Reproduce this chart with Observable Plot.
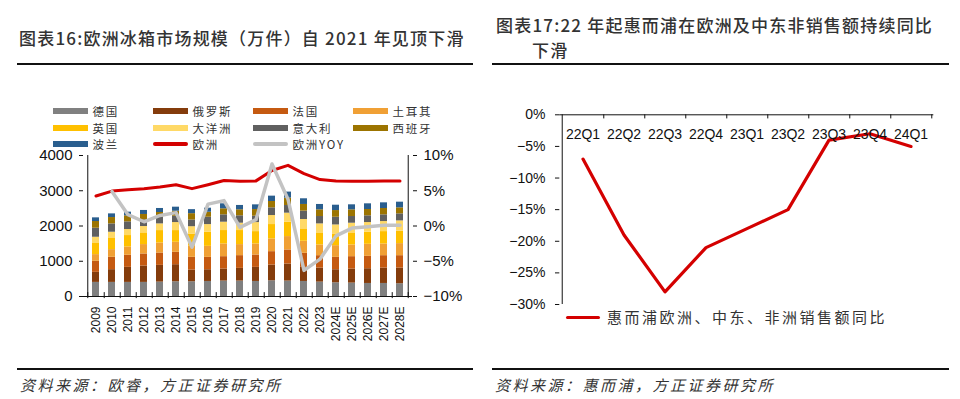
<!DOCTYPE html>
<html><head><meta charset="utf-8">
<script src="https://cdn.jsdelivr.net/npm/d3@7"></script>
<script src="https://cdn.jsdelivr.net/npm/@observablehq/plot@0.6"></script>
<style>
html,body{margin:0;padding:0;background:#fff;}
#root{position:relative;width:960px;height:399px;overflow:hidden;font-family:"Noto Sans CJK SC",sans-serif;color:#222;}
.abs{position:absolute;white-space:nowrap;}
.title{font-size:17px;letter-spacing:1.2px;color:#333;font-weight:500;line-height:20px;}
.rule{position:absolute;height:2px;background:#111;}
.src{font-size:15px;letter-spacing:2.5px;font-style:italic;color:#333;line-height:18px;}
.lg{font-size:11.5px;letter-spacing:1.8px;line-height:14px;color:#333;}
.sw{position:absolute;width:35px;height:6px;}
.ln{position:absolute;width:35px;height:4px;border-radius:2px;}
svg{overflow:visible;}
</style></head><body><div id="root"></div>
<script>
// ---------- Data: left chart ----------
const years = ["2009","2010","2011","2012","2013","2014","2015","2016","2017","2018","2019","2020","2021","2022","2023","2024E","2025E","2026E","2027E","2028E"];
const countries = ["德国","俄罗斯","法国","土耳其","英国","大洋洲","意大利","西班牙","波兰"];
const germany = [400,400,400,400,408,418,418,427,437,437,427,446,437,427,408,389,380,370,370,361];
const russia  = [285,361,427,465,475,484,332,332,342,361,399,446,484,400,399,370,399,418,437,446];
const france  = [313,351,342,342,351,351,361,351,351,361,351,380,399,398,351,351,351,351,351,351];
const turkey  = [190,218,237,266,285,285,320,313,361,313,313,361,380,342,304,332,332,342,332,342];
const uk      = [332,332,323,332,351,332,340,399,380,399,351,408,408,351,342,332,342,342,351,351];
const oceania = [161,161,171,180,190,228,209,218,237,209,256,256,256,266,256,256,275,275,285,294];
const italy   = [256,237,218,190,190,180,190,209,209,209,180,218,218,237,209,218,190,190,190,199];
const spain   = [190,180,171,152,133,142,180,142,171,171,190,180,209,190,190,190,190,180,180,171];
const poland  = [104,104,104,114,114,114,114,114,142,123,133,152,171,161,152,152,142,161,161,161];
const europe    = [2850,2991,3031,3060,3105,3170,3060,3170,3290,3267,3280,3575,3720,3487,3316,3276,3267,3270,3276,3276];
const europeYoy = [null,4.9,1.6,0.6,1.5,1.9,-3.0,3.1,3.6,-0.2,0.9,8.8,3.8,-6.3,-4.7,-1.4,-0.3,-0.1,0.1,0.1];
const leftTicks = [0,1000,2000,3000,4000];

// ---------- Data: right chart ----------
const quarters = ["22Q1","22Q2","22Q3","22Q4","23Q1","23Q2","23Q3","23Q4","24Q1"];
const salesYoy = [-7,-19,-28,-21,-18,-15,-4,-3,-5];
const rightTicks = [0,-5,-10,-15,-20,-25,-30];

// ---------- Styles ----------
const countryColors = ["#808080","#843C0C","#C55A11","#F0A035","#FFC000","#FFD966","#606060","#9C7400","#2A5E8E"];
const redColor = "#D40000", greyLine = "#C3C3C3";

const pct = v => { const r = Math.round(v*100)/100; return r === 0 ? "0%" : (r < 0 ? "\u2212" + Math.abs(r) : r) + "%"; };

const seriesValues = [germany, russia, france, turkey, uk, oceania, italy, spain, poland];
const table = countries.flatMap((c, ci) => years.map((y, i) => ({year: y, country: c, value: seriesValues[ci][i]})));
const euro = years.map((y, i) => ({year: y, total: europe[i], yoy: europeYoy[i]}));
const yoyToLeft = v => (v + 10) * 200;

const root = document.getElementById("root");
function add(html){ root.insertAdjacentHTML("beforeend", html); }

// Titles / rules / sources
add(`<div class="abs title" style="left:19px;top:28px;">图表16:欧洲冰箱市场规模（万件）自 2021 年见顶下滑</div>`);
add(`<div class="rule" style="left:17px;top:63px;width:456px;"></div>`);
add(`<div class="abs title" style="left:496px;top:15px;">图表17:22 年起惠而浦在欧洲及中东非销售额持续同比</div>`);
add(`<div class="abs title" style="left:532px;top:40px;">下滑</div>`);
add(`<div class="rule" style="left:492px;top:63px;width:457px;"></div>`);
add(`<div class="rule" style="left:17px;top:368px;width:456px;"></div>`);
add(`<div class="rule" style="left:492px;top:368px;width:457px;"></div>`);
add(`<div class="abs src" style="left:20px;top:376px;">资料来源：欧睿，方正证券研究所</div>`);
add(`<div class="abs src" style="left:495px;top:376px;">资料来源：惠而浦，方正证券研究所</div>`);

// Left legend
const legendItems = countries.map((c, i) => ({name: c, color: countryColors[i], line: false}))
  .concat([{name: "欧洲", color: redColor, line: true}, {name: "欧洲YOY", color: greyLine, line: true}]);
legendItems.forEach((it, i) => {
  const col = i % 4, row = Math.floor(i / 4);
  const cx = 53 + col * 100, cy = 111 + row * 16.7;
  if (it.line) add(`<div class="ln" style="left:${cx}px;top:${cy-2}px;background:${it.color};"></div>`);
  else add(`<div class="sw" style="left:${cx}px;top:${cy-3}px;background:${it.color};"></div>`);
  add(`<div class="abs lg" style="left:${cx+39.5}px;top:${cy-7}px;">${it.name}</div>`);
});

// Left chart
const pi = 0.57, po = 0.285;
const Lw = 480, Lh = 200, LmL = 83, LmR = 68, LmT = 5, LmB = 54;
const stepL = (Lw - LmL - LmR) / (years.length - pi + 2 * po);
const left = Plot.plot({
  width: Lw, height: Lh, marginLeft: LmL, marginRight: LmR, marginTop: LmT, marginBottom: LmB,
  style: {fontFamily: "'Liberation Sans', Arial, sans-serif", fontSize: "15px", color: "#111", background: "transparent"},
  x: {type: "band", domain: years, paddingInner: pi, paddingOuter: po},
  y: {domain: [0, 4000]},
  color: {domain: countries, range: countryColors},
  marks: [
    Plot.barY(table, {x: "year", y: "value", fill: "country", order: countries}),
    Plot.ruleY([0], {stroke: "#111"}),
    Plot.ruleX([years[0]], {x: d => d, y1: 0, y2: 4000, dx: -stepL/2, stroke: "#111"}),
    Plot.ruleX([years[years.length-1]], {x: d => d, y1: 0, y2: 4000, dx: stepL/2, stroke: "#111"}),
    Plot.ruleX(years, {x: d => d, y1: -60, y2: 110, dx: stepL/2, stroke: "#111"}),
    Plot.ruleX([years[0]], {x: d => d, y1: -60, y2: 110, dx: -stepL/2, stroke: "#111"}),
    Plot.line(euro, {x: "year", y: "total", stroke: redColor, strokeWidth: 3}),
    Plot.line(euro, {x: "year", y: d => d.yoy == null ? NaN : yoyToLeft(d.yoy), stroke: greyLine, strokeWidth: 3.5}),
    Plot.axisY({anchor: "left", ticks: leftTicks, tickFormat: d3.format("d"), tickSize: 4, tickPadding: 7, label: null}),
    Plot.axisY({anchor: "right", ticks: leftTicks, tickFormat: v => pct(v/200 - 10), tickSize: 4, tickPadding: 7, label: null}),
    Plot.axisX({anchor: "bottom", tickSize: 0, tickRotate: -90, tickPadding: 10, fontSize: 12, label: null})
  ]
});
left.style.position = "absolute"; left.style.left = "0px"; left.style.top = "150px";
root.appendChild(left);

// Right chart
const Rw = 480, Rh = 250, RmL = 79.3, RmR = 26.7, RmT = 14.3, RmB = 46;
const stepR = (Rw - RmL - RmR) / quarters.length;
const sales = quarters.map((q, i) => ({q, v: salesYoy[i]}));
const right = Plot.plot({
  width: Rw, height: Rh, marginLeft: RmL, marginRight: RmR, marginTop: RmT, marginBottom: RmB,
  style: {fontFamily: "'Liberation Sans', Arial, sans-serif", fontSize: "14px", color: "#111", background: "transparent"},
  x: {type: "band", domain: quarters, padding: 0},
  y: {domain: [-30, 0]},
  marks: [
    Plot.ruleY([0], {stroke: "#111"}),
    Plot.ruleX([quarters[0]], {x: d => d, dx: -stepR/2, y1: -30, y2: 0, stroke: "#111"}),
    Plot.ruleX(quarters, {x: d => d, dx: stepR/2, y1: 0, y2: -0.65, stroke: "#111"}),
    Plot.line(sales, {x: "q", y: "v", stroke: redColor, strokeWidth: 3.2}),
    Plot.axisY({anchor: "left", ticks: rightTicks, tickFormat: pct, tickSize: 4.3, tickPadding: 10, label: null}),
    Plot.axisX({anchor: "top", tickSize: 0, tickPadding: -20, lineAnchor: "middle", label: null})
  ]
});
right.style.position = "absolute"; right.style.left = "480px"; right.style.top = "100px";
root.appendChild(right);

// Right legend
add(`<div class="abs" style="left:566px;top:315.5px;width:34px;height:3.5px;border-radius:2px;background:${redColor};"></div>`);
add(`<div class="abs src" style="left:607px;top:308px;font-style:normal;">惠而浦欧洲、中东、非洲销售额同比</div>`);
</script></body></html>
